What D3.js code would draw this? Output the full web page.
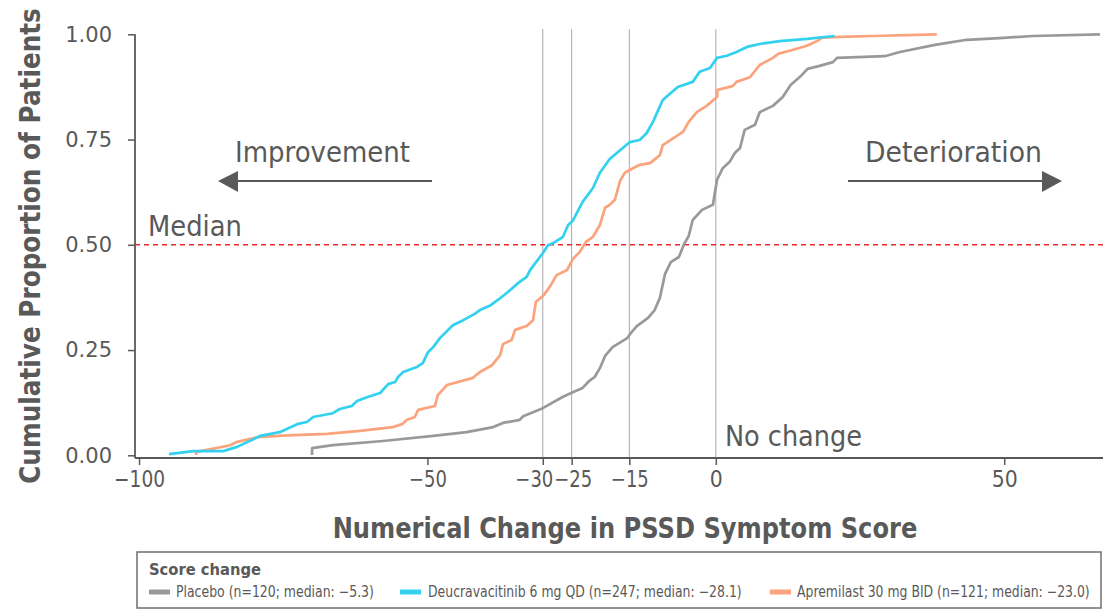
<!DOCTYPE html>
<html>
<head>
<meta charset="utf-8">
<script src="https://cdn.jsdelivr.net/npm/d3@7"></script>
<style>
  html, body { margin: 0; padding: 0; background: #fff; }
  svg { display: block; }
  text { font-family: "DejaVu Sans", sans-serif; fill: #595959; }
  .cond { font-family: "DejaVu Sans Condensed", "DejaVu Sans", sans-serif; }
</style>
</head>
<body>
<script>
// ---- data ----
const placeboX = [-70.0,-70.0,-66.4,-57.7,-49.0,-43.2,-38.6,-36.9,-34.0,-33.4,-30.0,-26.5,-24.8,-23.1,-22.0,-21.0,-20.1,-19.2,-17.9,-15.3,-14.7,-13.7,-11.8,-10.6,-9.7,-8.8,-7.8,-6.4,-5.5,-4.7,-4.0,-2.4,-0.5,0.2,1.2,2.4,3.3,4.2,5.0,6.8,7.6,9.9,11.6,13.0,14.6,15.9,18.0,20.3,21.0,29.3,31.9,38.0,43.5,49.2,54.9,66.6];
const placeboY = [0.001,0.017,0.024,0.034,0.046,0.055,0.067,0.077,0.084,0.093,0.112,0.139,0.150,0.160,0.176,0.186,0.207,0.236,0.257,0.279,0.291,0.307,0.326,0.345,0.374,0.431,0.459,0.471,0.502,0.521,0.559,0.583,0.595,0.654,0.682,0.697,0.718,0.730,0.773,0.785,0.815,0.830,0.851,0.880,0.899,0.918,0.925,0.934,0.944,0.948,0.958,0.975,0.987,0.991,0.996,1.000];

const deucraX = [-94.8,-90.6,-85.4,-83.0,-79.0,-75.6,-72.6,-70.9,-69.8,-66.4,-65.2,-63.1,-62.2,-60.5,-58.2,-56.8,-55.6,-55.1,-54.2,-51.8,-50.8,-49.9,-49.0,-47.8,-45.6,-43.8,-41.8,-40.9,-39.2,-37.8,-36.2,-34.3,-32.8,-32.2,-30.5,-30.0,-29.1,-28.2,-26.5,-25.6,-24.8,-23.1,-21.3,-20.1,-18.4,-17.0,-14.9,-13.2,-12.0,-10.9,-9.2,-6.6,-4.0,-2.8,-1.0,0.2,1.9,3.6,5.4,7.6,11.1,15.8,20.6];
const deucraY = [0.003,0.010,0.010,0.020,0.046,0.055,0.074,0.079,0.091,0.100,0.110,0.117,0.129,0.138,0.148,0.169,0.174,0.186,0.198,0.210,0.219,0.245,0.257,0.279,0.309,0.321,0.336,0.345,0.355,0.369,0.386,0.409,0.424,0.440,0.471,0.480,0.499,0.504,0.519,0.547,0.557,0.602,0.635,0.671,0.704,0.720,0.744,0.749,0.765,0.792,0.844,0.875,0.887,0.911,0.920,0.944,0.949,0.958,0.970,0.977,0.984,0.989,0.996];

const apremX = [-90.1,-90.1,-88.2,-84.2,-83.0,-79.0,-73.3,-67.4,-61.7,-56.0,-54.4,-53.6,-52.2,-51.6,-48.7,-48.2,-46.6,-42.1,-40.9,-38.8,-37.4,-36.9,-35.4,-34.8,-32.8,-31.7,-31.2,-29.8,-28.8,-27.6,-25.8,-24.8,-23.6,-22.5,-21.3,-20.1,-19.2,-18.4,-17.5,-16.6,-15.8,-14.6,-13.2,-11.4,-9.7,-9.2,-5.7,-4.7,-3.3,-1.6,0.2,0.3,2.9,3.6,5.9,7.6,9.9,10.9,12.8,15.8,17.7,18.4,21.5,27.2,38.3];
const apremY = [0.001,0.008,0.013,0.024,0.032,0.044,0.048,0.051,0.058,0.067,0.074,0.084,0.091,0.108,0.117,0.143,0.167,0.184,0.198,0.214,0.238,0.264,0.274,0.298,0.307,0.321,0.364,0.381,0.400,0.428,0.440,0.466,0.483,0.507,0.519,0.547,0.588,0.595,0.607,0.652,0.671,0.680,0.690,0.694,0.713,0.737,0.768,0.792,0.815,0.830,0.851,0.868,0.877,0.887,0.898,0.927,0.944,0.954,0.961,0.973,0.985,0.992,0.994,0.996,1.000];

const seriesNames = ["Placebo (n=120; median: \u22125.3)", "Deucravacitinib 6 mg QD (n=247; median: \u221228.1)", "Apremilast 30 mg BID (n=121; median: \u221223.0)"];
const seriesColors = ["#9c9898", "#33d1f0", "#fba37c"];
const xTicks = [-100, -50, -30, -25, -15, 0, 50];
const yTicks = [0, 0.25, 0.5, 0.75, 1.0];
const refLines = [-30, -25, -15, 0];
const medianLevel = 0.5;

// ---- chart ----
const W = 1103, H = 610;
const svg = d3.select("body").append("svg").attr("width", W).attr("height", H);

const x = d3.scaleLinear().domain([-100.7, 67.3]).range([135, 1104]);
const y = d3.scaleLinear().domain([-0.0064, 1.0126]).range([458, 29]);

// place a text so that its rendered width equals `width` (horizontal squeeze via transform)
function fitText(parent, str, tx, ty, width, opts) {
  const t = parent.append("text").attr("x", 0).attr("y", 0).text(str);
  if (opts.size) t.attr("font-size", opts.size);
  if (opts.bold) t.attr("font-weight", "bold");
  if (opts.cls) t.attr("class", opts.cls);
  if (opts.anchor) t.attr("text-anchor", opts.anchor);
  const w = t.node().getComputedTextLength();
  const s = width / w;
  const rot = opts.rotate ? ` rotate(${opts.rotate})` : "";
  t.attr("transform", `translate(${tx},${ty})${rot} scale(${s},1)`);
  return t;
}

// reference vertical lines
svg.append("g").selectAll("line").data(refLines).join("line")
  .attr("x1", d => x(d)).attr("x2", d => x(d))
  .attr("y1", y.range()[1]).attr("y2", y.range()[0])
  .attr("stroke", "#a8a8a8").attr("stroke-width", 1);

// median line
svg.append("line")
  .attr("x1", x.range()[0]).attr("x2", W)
  .attr("y1", y(medianLevel)).attr("y2", y(medianLevel))
  .attr("stroke", "#e8262b").attr("stroke-width", 1.6)
  .attr("stroke-dasharray", "5,4");

// curves
const line = d3.line().x(d => x(d[0])).y(d => y(d[1]));
const series = [
  {xs: placeboX, ys: placeboY, c: seriesColors[0]},
  {xs: apremX, ys: apremY, c: seriesColors[2]},
  {xs: deucraX, ys: deucraY, c: seriesColors[1]}
];
series.forEach(s => {
  svg.append("path")
    .datum(s.xs.map((v, i) => [v, s.ys[i]]))
    .attr("d", line)
    .attr("fill", "none")
    .attr("stroke", s.c)
    .attr("stroke-width", 2.7)
    .attr("stroke-linejoin", "round");
});

// axes
const axisColor = "#595959";
const yAxis = svg.append("g").attr("transform", `translate(${x.range()[0]},0)`)
  .call(d3.axisLeft(y).tickValues(yTicks).tickFormat(d3.format(".2f")).tickSize(7).tickPadding(16));
yAxis.select(".domain").remove();
yAxis.append("line").attr("x1", 0).attr("x2", 0).attr("y1", y(1)).attr("y2", y.range()[0])
  .attr("stroke", axisColor).attr("stroke-width", 1.8);
yAxis.selectAll(".tick line").attr("stroke", axisColor).attr("stroke-width", 1.5);
yAxis.selectAll(".tick text").attr("font-size", 21).attr("fill", "#595959")
  .style("font-family", "'DejaVu Sans', sans-serif");

const xAxis = svg.append("g").attr("transform", `translate(0,${y.range()[0]})`)
  .call(d3.axisBottom(x).tickValues(xTicks).tickFormat(d3.format("d")).tickSize(7).tickPadding(6));
xAxis.select(".domain").remove();
xAxis.append("line").attr("x1", x.range()[0]).attr("x2", W).attr("y1", 0).attr("y2", 0)
  .attr("stroke", axisColor).attr("stroke-width", 1.8);
xAxis.selectAll(".tick line").attr("stroke", axisColor).attr("stroke-width", 1.5);
// narrow, tall tick labels like the reference; nudge -30/-25 apart so they abut
const xNudge = {"-30": -9, "-25": 1};
xAxis.selectAll(".tick text").each(function(d) {
  const t = d3.select(this)
    .attr("font-size", 23).attr("fill", "#595959")
    .style("font-family", "'DejaVu Sans Condensed', 'DejaVu Sans', sans-serif");
  const str = t.text();
  const target = (str.startsWith("\u2212") ? 12 : 0) + 13 * str.replace("\u2212", "").length;
  const w = this.getComputedTextLength();
  const dx = xNudge[String(d)] || 0;
  const yy = +t.attr("y");
  t.attr("y", 0).attr("transform", `translate(${dx},${yy}) scale(${target / w},1)`);
});

// axis titles
fitText(svg, "Cumulative Proportion of Patients", 40, 246, 476, {size: 28, bold: true, anchor: "middle", rotate: -90});
fitText(svg, "Numerical Change in PSSD Symptom Score", 625, 538, 585, {size: 28, bold: true, anchor: "middle"});

// annotations
fitText(svg, "Improvement", 235, 162, 175, {size: 28});
fitText(svg, "Deterioration", 865, 162, 177, {size: 28});
fitText(svg, "Median", 148, 236, 94, {size: 28});
fitText(svg, "No change", 725, 446, 137, {size: 28});

// arrows
const arrowColor = "#595959";
svg.append("line").attr("x1", 432).attr("x2", 232).attr("y1", 181).attr("y2", 181)
  .attr("stroke", arrowColor).attr("stroke-width", 2);
svg.append("path").attr("d", "M218,181 L238,171 L238,192 Z").attr("fill", arrowColor);
svg.append("line").attr("x1", 848).attr("x2", 1048).attr("y1", 181).attr("y2", 181)
  .attr("stroke", arrowColor).attr("stroke-width", 2);
svg.append("path").attr("d", "M1062,181 L1042,171 L1042,192 Z").attr("fill", arrowColor);

// legend
const lg = svg.append("g");
lg.append("rect").attr("x", 137).attr("y", 552).attr("width", 964).attr("height", 56)
  .attr("fill", "#fff").attr("stroke", "#6f6f6f").attr("stroke-width", 1.5);
fitText(lg, "Score change", 149, 575, 112, {size: 15, bold: true, cls: "cond"});
const legendItems = [
  {name: seriesNames[0], c: seriesColors[0], sx: 149, tx: 176, tl: 198},
  {name: seriesNames[1], c: seriesColors[1], sx: 400, tx: 428, tl: 314},
  {name: seriesNames[2], c: seriesColors[2], sx: 770, tx: 797, tl: 293}
];
legendItems.forEach(it => {
  lg.append("line").attr("x1", it.sx).attr("x2", it.sx + 21).attr("y1", 592).attr("y2", 592)
    .attr("stroke", it.c).attr("stroke-width", 5);
  fitText(lg, it.name, it.tx, 597, it.tl, {size: 15, cls: "cond"});
});
</script>
</body>
</html>
